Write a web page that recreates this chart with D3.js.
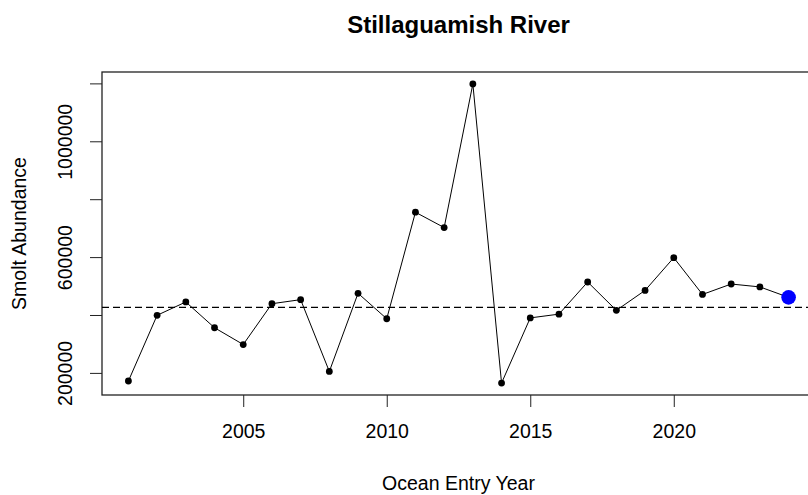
<!DOCTYPE html>
<html>
<head>
<meta charset="utf-8">
<script src="https://cdn.jsdelivr.net/npm/d3@7"></script>
<style>
  body { margin: 0; background: #fff; }
  text { font-family: "Liberation Sans", Arial, sans-serif; fill: #000; }
</style>
</head>
<body>
<script>
// Smolt abundance by ocean entry year
var years = [2001, 2002, 2003, 2004, 2005, 2006, 2007, 2008, 2009, 2010, 2011, 2012,
             2013, 2014, 2015, 2016, 2017, 2018, 2019, 2020, 2021, 2022, 2023, 2024];
var abundance = [172000, 399000, 445000, 356000, 298000, 439000, 453000, 205000,
                 475000, 387000, 755000, 702000, 1198000, 165000, 390000, 403000,
                 514000, 416000, 485000, 598000, 471000, 507000, 497000, 461000];
var refLine = 426000;           // dashed horizontal reference
var xTicks = [2005, 2010, 2015, 2020];
var yTicks = [200000, 400000, 600000, 800000, 1000000, 1200000];
var yLabels = [200000, 600000, 1000000];  // R drops the overlapping ones

var width = 808, height = 495;
var plot = {left: 102, right: 815, top: 72, bottom: 395};

var data = years.map(function(d, i) { return {year: d, value: abundance[i]}; });

var svg = d3.select("body").append("svg")
    .attr("width", width)
    .attr("height", height);

// R-style 4% padding on both axes
function pad(ext) {
    var r = ext[1] - ext[0];
    return [ext[0] - r * 0.04, ext[1] + r * 0.04];
}

var x = d3.scaleLinear().domain(pad(d3.extent(years))).range([plot.left, plot.right]);
var y = d3.scaleLinear().domain(pad(d3.extent(abundance))).range([plot.bottom, plot.top]);

// title
svg.append("text")
    .attr("x", (plot.left + plot.right) / 2)
    .attr("y", 33)
    .attr("text-anchor", "middle")
    .attr("font-size", "24px")
    .attr("font-weight", "bold")
    .text("Stillaguamish River");

// x axis
var xAxis = svg.append("g")
    .attr("transform", "translate(0," + plot.bottom + ")")
    .call(d3.axisBottom(x).tickValues(xTicks).tickSize(12).tickPadding(17).tickFormat(d3.format("d")));
xAxis.select(".domain").remove();
xAxis.selectAll("line").attr("stroke", "#222");
xAxis.selectAll("text").attr("font-size", "19.5px").attr("fill", "#000");

// y axis
var yAxis = svg.append("g")
    .attr("transform", "translate(" + plot.left + ",0)")
    .call(d3.axisLeft(y).tickValues(yTicks).tickSize(12)
        .tickFormat(function(d) { return yLabels.indexOf(d) >= 0 ? d : ""; }));
yAxis.select(".domain").remove();
yAxis.selectAll("line").attr("stroke", "#222");
yAxis.selectAll("text")
    .attr("font-size", "19.5px")
    .attr("fill", "#000")
    .attr("x", 0)
    .attr("y", -30)
    .attr("dy", 0)
    .attr("transform", "rotate(-90)")
    .style("text-anchor", "middle");

// plot box (right side runs off the canvas like the reference)
svg.append("rect")
    .attr("x", plot.left)
    .attr("y", plot.top)
    .attr("width", plot.right - plot.left)
    .attr("height", plot.bottom - plot.top)
    .attr("fill", "none")
    .attr("stroke", "#222")
    .attr("stroke-width", 1.3);

// axis titles
svg.append("text")
    .attr("x", (plot.left + plot.right) / 2)
    .attr("y", 490)
    .attr("text-anchor", "middle")
    .attr("font-size", "19.5px")
    .text("Ocean Entry Year");

svg.append("text")
    .attr("transform", "translate(25.5," + (plot.top + plot.bottom) / 2 + ") rotate(-90)")
    .attr("text-anchor", "middle")
    .attr("font-size", "19.5px")
    .text("Smolt Abundance");

// dashed reference line
svg.append("line")
    .attr("x1", plot.left)
    .attr("x2", plot.right)
    .attr("y1", y(refLine))
    .attr("y2", y(refLine))
    .attr("stroke", "#000")
    .attr("stroke-width", 1.3)
    .attr("stroke-dasharray", "7,4");

// series line
var line = d3.line()
    .x(function(d) { return x(d.year); })
    .y(function(d) { return y(d.value); });

svg.append("path")
    .datum(data)
    .attr("d", line)
    .attr("fill", "none")
    .attr("stroke", "#000")
    .attr("stroke-width", 1);

// points, last year highlighted in blue
svg.selectAll("circle")
    .data(data)
    .enter()
    .append("circle")
    .attr("cx", function(d) { return x(d.year); })
    .attr("cy", function(d) { return y(d.value); })
    .attr("r", function(d, i) { return i === data.length - 1 ? 7.3 : 3.4; })
    .attr("fill", function(d, i) { return i === data.length - 1 ? "#0000ff" : "#000"; });
</script>
</body>
</html>
